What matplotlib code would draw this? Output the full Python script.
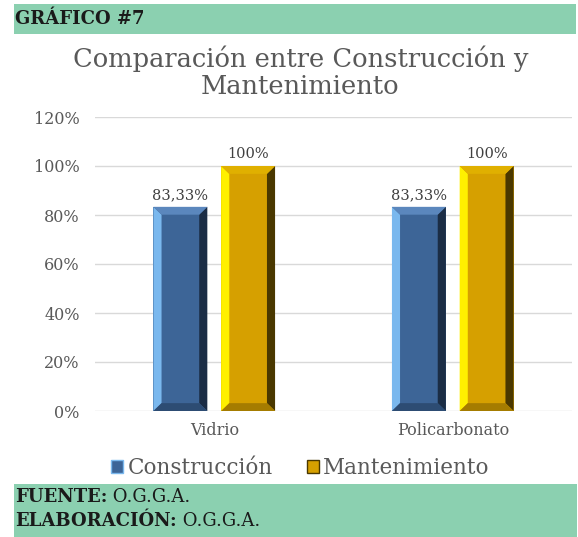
import matplotlib.pyplot as plt
from matplotlib.patches import Rectangle, Polygon, Patch
import numpy as np

plt.rcParams['font.family'] = ['DejaVu Serif']

categories = ['Vidrio', 'Policarbonato']
construccion = [83.33, 83.33]
mantenimiento = [100, 100]
labels_c = ['83,33%', '83,33%']
labels_m = ['100%', '100%']
yticks = [0, 20, 40, 60, 80, 100, 120]

fig = plt.figure(figsize=(5.78, 5.37), dpi=100)
green = '#8BD0B0'

# header / footer bands
fig.patches.append(Rectangle((14/578, 1-34/537), 562/578, 30/537, transform=fig.transFigure,
                             facecolor=green, edgecolor='none', zorder=0))
fig.patches.append(Rectangle((14/578, 0), 563/578, 53/537, transform=fig.transFigure,
                             facecolor=green, edgecolor='none', zorder=0))
fig.text(15/578, 1-19/537, 'GRÁFICO #7', fontsize=13, fontweight='bold', color='#1a1a1a', va='center')

t1 = fig.text(15/578, 1-497/537, 'FUENTE:', fontsize=13, fontweight='bold', color='#1a1a1a', va='center')
t2 = fig.text(15/578, 1-521/537, 'ELABORACIÓN:', fontsize=13, fontweight='bold', color='#1a1a1a', va='center')
for t in (t1, t2):
    fig.add_artist(plt.Annotation(' O.G.G.A.', xy=(1, 0), xycoords=t, va='bottom', ha='left',
                                  fontsize=13, color='#1a1a1a'))

fig.text(0.52, 1-72/537, 'Comparación entre Construcción y\nMantenimiento', fontsize=18.5,
         color='#595959', ha='center', va='center', linespacing=1.12)

ax = fig.add_axes([95/578, 126/537, 477/578, 294/537])
x = np.arange(len(categories))
w = 0.226
off = 0.142

bars_c = ax.bar(x - off, construccion, w, color='#3D6597', zorder=2)
bars_m = ax.bar(x + off, mantenimiento, w, color='#D6A000', zorder=2)

def bevel(bars, cols):
    left, right, top, bottom = cols
    dx, dy = 0.034, 3.2
    for b in bars:
        x0, x1 = b.get_x(), b.get_x() + b.get_width()
        h = b.get_height()
        polys = [
            ([(x0, 0), (x0+dx, dy), (x0+dx, h-dy), (x0, h)], left),
            ([(x1, 0), (x1-dx, dy), (x1-dx, h-dy), (x1, h)], right),
            ([(x0, h), (x0+dx, h-dy), (x1-dx, h-dy), (x1, h)], top),
            ([(x0, 0), (x0+dx, dy), (x1-dx, dy), (x1, 0)], bottom),
        ]
        for p, c in polys:
            ax.add_patch(Polygon(p, closed=True, facecolor=c, edgecolor='none', zorder=3))

bevel(bars_c, ['#7AB8EE', '#1B2D45', '#5B87BD', '#2D4C73'])
bevel(bars_m, ['#FFF000', '#4A3800', '#E0B000', '#A57C00'])

for b, lab in zip(bars_c, labels_c):
    ax.text(b.get_x() + b.get_width()/2, b.get_height() + 2, lab, ha='center', va='bottom',
            fontsize=10.5, color='#404040')
for b, lab in zip(bars_m, labels_m):
    ax.text(b.get_x() + b.get_width()/2, b.get_height() + 2, lab, ha='center', va='bottom',
            fontsize=10.5, color='#404040')

ax.set_xlim(-0.5, 1.5)
ax.set_ylim(0, 120)
ax.set_yticks(yticks)
ax.set_yticklabels([f'{v}%' for v in yticks])
ax.set_xticks(x)
ax.set_xticklabels(categories)
ax.tick_params(length=0, labelsize=11.5, labelcolor='#595959')
ax.tick_params(axis='y', pad=11)
ax.tick_params(axis='x', pad=8)
ax.grid(axis='y', color='#D9D9D9', linewidth=1, zorder=0)
ax.set_axisbelow(True)
for s in ax.spines.values():
    s.set_visible(False)

handles = [Patch(facecolor='#3D6597', edgecolor='#7AB8EE', label='Construcción'),
           Patch(facecolor='#D6A000', edgecolor='#4A3800', label='Mantenimiento')]
fig.legend(handles=handles, loc='center', bbox_to_anchor=(0.52, 1-468/537), ncol=2, frameon=False,
           fontsize=15.5, handlelength=0.55, handleheight=0.55, handletextpad=0.2, columnspacing=1.6,
           labelcolor='#595959')

fig.savefig('out.png', dpi=100)
